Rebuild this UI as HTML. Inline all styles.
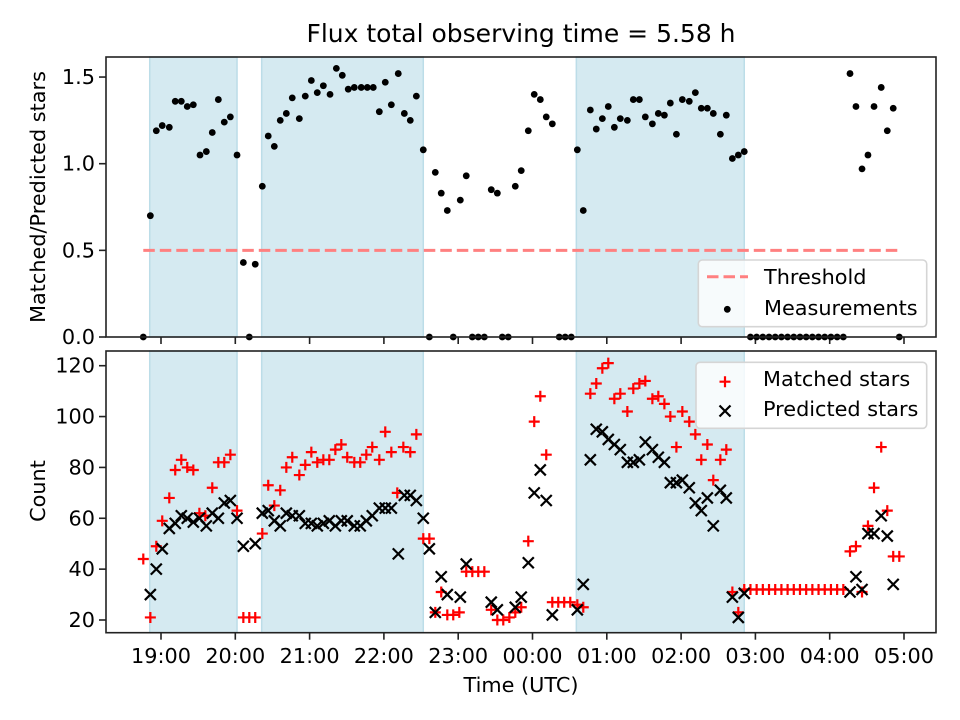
<!DOCTYPE html>
<html><head><meta charset="utf-8"><style>
html,body{margin:0;padding:0;background:#fff}
svg{display:block;font-family:"DejaVu Sans","Liberation Sans",sans-serif}
</style></head><body>
<svg id="chart" width="960" height="720" viewBox="0 0 960 720" xmlns="http://www.w3.org/2000/svg">
<rect width="960" height="720" fill="#fff"/>
<text x="521" y="42" text-anchor="middle" font-size="25">Flux total observing time = 5.58 h</text>
<g id="top"></g><g id="bot"></g>
<text x="521" y="692" text-anchor="middle" font-size="20.8">Time (UTC)</text>
<text transform="translate(45,197) rotate(-90)" text-anchor="middle" font-size="20.8">Matched/Predicted stars</text>
<text transform="translate(45,491) rotate(-90)" text-anchor="middle" font-size="20.8">Count</text>
</svg>
<script>
// times in minutes after 18:00
const shadeStart = [50.9, 141.3, 395.4];
const shadeEnd = [121.4, 271.8, 531.0];
const threshold = 0.5;
const thresholdRange = [45.7, 656.2];
const xTickMinutes = [60,120,180,240,300,360,420,480,540,600,660];
const xTickLabels = ["19:00","20:00","21:00","22:00","23:00","00:00","01:00","02:00","03:00","04:00","05:00"];
const topTicks = [0, 0.5, 1.0, 1.5];
const topTickLabels = ["0.0","0.5","1.0","1.5"];
const botTicks = [20,40,60,80,100,120];
const ratioT = [45.7,51.4,56.2,61.0,66.7,71.5,76.4,81.2,86.1,91.5,96.6,101.4,106.3,111.1,116.0,121.4,126.5,131.3,136.1,141.8,146.6,151.5,156.3,161.2,166.0,171.7,176.5,181.4,186.2,191.1,196.5,201.6,206.4,211.2,216.1,221.7,226.6,231.4,236.3,241.1,246.0,251.6,256.5,261.3,266.2,271.8,276.7,281.5,286.3,291.2,296.0,301.7,306.5,311.4,316.2,321.1,326.7,331.6,335.6,340.4,346.1,350.9,356.6,361.4,366.3,371.1,376.0,381.6,386.4,391.3,396.2,401.0,406.7,411.5,416.4,421.2,426.1,430.9,436.6,441.4,446.3,451.1,456.8,461.6,466.5,471.3,476.2,481.0,486.6,491.5,496.3,501.2,506.0,511.7,516.5,521.4,526.2,531.0,536,541,546,551,556,561,566,571,576,581,586,591,596,601,606,611,616.4,621.2,626.1,630.9,635.8,641.6,646.5,651.3,656.2];
const ratioV = [0,0.70,1.19,1.22,1.21,1.36,1.36,1.33,1.34,1.05,1.07,1.18,1.37,1.24,1.27,1.05,0.43,0,0.42,0.87,1.16,1.10,1.25,1.29,1.38,1.26,1.39,1.48,1.41,1.45,1.40,1.55,1.51,1.43,1.44,1.44,1.44,1.44,1.30,1.47,1.34,1.52,1.29,1.25,1.39,1.08,0,0.95,0.83,0.73,0,0.79,0.93,0,0,0,0.85,0.83,0,0,0.87,0.96,1.19,1.40,1.37,1.27,1.23,0,0,0,1.08,0.73,1.31,1.20,1.26,1.33,1.21,1.26,1.25,1.37,1.37,1.27,1.23,1.29,1.28,1.35,1.17,1.37,1.36,1.41,1.32,1.32,1.29,1.17,1.28,1.03,1.05,1.07,0,0,0,0,0,0,0,0,0,0,0,0,0,0,0,0,1.52,1.33,0.97,1.05,1.33,1.44,1.19,1.32,0];
const matchedT = [45.7,51.4,56.2,61.0,66.7,71.5,76.4,81.2,86.1,91.0,95.8,101.4,106.3,111.1,116.0,121.4,126.5,131.3,136.1,141.8,146.6,151.5,156.3,161.2,166.0,171.7,176.5,181.4,186.2,191.1,195.9,200.8,205.6,210.4,216.1,220.9,225.8,230.6,236.3,241.1,246.0,250.8,255.7,261.3,266.2,271.8,276.7,281.5,286.3,291.2,296.0,300.9,306.5,311.4,316.2,321.1,326.7,331.6,336.4,341.3,346.1,350.9,356.6,361.4,366.3,371.1,376.0,380.8,385.6,390.5,396.2,401.0,406.7,411.5,416.4,421.2,426.1,430.9,436.6,441.4,446.3,451.1,456.8,461.6,466.5,471.3,476.2,481.0,486.6,491.5,496.3,501.2,506.0,511.7,516.5,521.4,526.2,531.0,536,541,546,551,556,561,566,571,576,581,586,591,596,601,606,611,616.4,621.2,626.1,630.9,635.8,641.6,646.5,651.3,656.2];
const matchedV = [44,21,49,59,68,79,83,80,79,62,61,72,82,82,85,63,21,21,21,54,73,65,71,80,84,77,81,86,82,83,83,87,89,84,82,82,85,88,83,94,86,70,88,86,93,52,52,23,31,22,22,23,39,39,39,39,24,20,20,21,23,25,51,98,108,85,27,27,27,27,26,25,109,113,119,121,107,109,102,111,113,114,107,108,105,100,88,102,98,93,83,89,75,83,87,31,23,32,32,32,32,32,32,32,32,32,32,32,32,32,32,32,32,32,47,49,31,57,72,88,63,45,45];
const predT = [51.4,56.2,61.0,66.7,71.5,76.4,81.2,86.1,91.0,96.6,101.4,106.3,111.1,116.0,121.4,126.5,136.1,141.8,146.6,151.5,156.3,161.2,166.0,171.7,176.5,181.4,186.2,191.1,195.9,200.8,205.6,210.4,216.1,220.9,225.8,230.6,236.3,241.1,246.0,251.6,256.5,261.3,266.2,271.8,276.7,281.5,286.3,291.2,301.7,306.5,326.7,331.6,346.1,350.9,356.6,361.4,366.3,371.1,376.0,396.2,401.0,406.7,411.5,416.4,421.2,426.1,430.9,436.6,441.4,446.3,451.1,456.8,461.6,466.5,471.3,476.2,481.0,486.6,491.5,496.3,501.2,506.0,511.7,516.5,521.4,526.2,531.0,616.4,621.2,626.1,630.9,635.8,641.6,646.5,651.3];
const predV = [30,40,48,56,58,61,60,58.5,60,57,62,60,66,67,60,49,50,62,63,59,57,62,61,61,58,58,57,58,59,57,59,59,57,57,59,61,64,64,64,46,69,69,67,60,48,23,37,30,29,42,27,24,25,29,42.5,70,79,67,22,24,34,83,95,94,91,89,87,82,82,83,90,87,84,82,74,74,75,72,66,63,68,57,71,68,29,21,30.5,31,37,32,54,54,61,53,34];

const NS="http://www.w3.org/2000/svg";
const L=106,R=936,TT=57,TB=337,BT=351,BB=632.7;
const xs = m => 161 + (m-60)*74.3/60;
const yTop = v => 337 - v*173.3;
const yBot = v => 620 - (v-20)*2.543;
function el(tag, attrs, parent){const e=document.createElementNS(NS,tag);for(const k in attrs)e.setAttribute(k,attrs[k]);parent.appendChild(e);return e;}

function panel(g, top, bottom, yf, ticks, labels, showX, prefix){
  for(let i=0;i<shadeStart.length;i++){
    const r=el('rect',{x:xs(shadeStart[i]),y:top,width:xs(shadeEnd[i])-xs(shadeStart[i]),height:bottom-top,fill:'#d5eaf1',stroke:'#bcdde8','stroke-width':1.5},g);
    
    
  }
  ticks.forEach((t,i)=>{
    const y=yf(t);
    el('line',{x1:L-7,x2:L,y1:y,y2:y,stroke:'#222','stroke-width':1.6},g);
    const tx=el('text',{x:L-11,y:y+7,'text-anchor':'end','font-size':20.8},g);
    tx.textContent=labels[i];
    
    
  });
  xTickMinutes.forEach((m,i)=>{
    const x=xs(m);
    el('line',{x1:x,x2:x,y1:bottom,y2:bottom+7,stroke:'#222','stroke-width':1.6},g);
    if(showX){
      const tx=el('text',{x:x,y:663,'text-anchor':'middle','font-size':20.8},g);
      tx.textContent=xTickLabels[i];
      
      
    }
  });
}

const gt=document.getElementById('top'), gb=document.getElementById('bot');
panel(gt,TT,TB,yTop,topTicks,topTickLabels,false,'top');
// threshold
const th=el('line',{x1:xs(thresholdRange[0]),x2:xs(thresholdRange[1]),y1:yTop(threshold),y2:yTop(threshold),stroke:'#ff8080','stroke-width':3,'stroke-dasharray':'11.5,5'},gt);


ratioT.forEach((t,i)=>{
  const c=el('circle',{cx:xs(t),cy:yTop(ratioV[i]),r:3.4,fill:'#000'},gt);
  
  
});
const tf=el('rect',{x:L,y:TT,width:R-L,height:TB-TT,fill:'none',stroke:'#222','stroke-width':1.6},gt);



panel(gb,BT,BB,yBot,botTicks,botTicks.map(String),true,'bottom');
function plus(g,x,y){const p=el('path',{d:`M${x-5.5},${y}H${x+5.5}M${x},${y-5.5}V${y+5.5}`,stroke:'#ff0000','stroke-width':2.2,fill:'none'},g);return p;}
function cross(g,x,y){const p=el('path',{d:`M${x-5.5},${y-5.5}L${x+5.5},${y+5.5}M${x-5.5},${y+5.5}L${x+5.5},${y-5.5}`,stroke:'#000','stroke-width':2.2,fill:'none'},g);return p;}
matchedT.forEach((t,i)=>{
  const p=plus(gb,xs(t),yBot(matchedV[i]));
  
  
});
predT.forEach((t,i)=>{
  const p=cross(gb,xs(t),yBot(predV[i]));
  
  
});
const bf=el('rect',{x:L,y:BT,width:R-L,height:BB-BT,fill:'none',stroke:'#222','stroke-width':1.6},gb);



// legends
const lg1=el('g',{},gt);


el('rect',{x:698.3,y:260,width:228.4,height:66.7,rx:4,fill:'rgba(255,255,255,0.8)',stroke:'#d5d5d5','stroke-width':1.6},lg1);
el('line',{x1:707,x2:748,y1:276.7,y2:276.7,stroke:'#ff8080','stroke-width':3,'stroke-dasharray':'11.5,5'},lg1);
const t1=el('text',{x:764,y:284,'font-size':20.8},lg1);t1.textContent='Threshold';
el('circle',{cx:727.3,cy:309.3,r:3.4,fill:'#000'},lg1);
const t2=el('text',{x:764,y:315,'font-size':20.8},lg1);t2.textContent='Measurements';

const lg2=el('g',{},gb);


el('rect',{x:696,y:362.3,width:230.7,height:66,rx:4,fill:'rgba(255,255,255,0.8)',stroke:'#d5d5d5','stroke-width':1.6},lg2);
plus(lg2,725,381.7);
const t3=el('text',{x:763,y:386,'font-size':20.8},lg2);t3.textContent='Matched stars';
cross(lg2,725,411);
const t4=el('text',{x:763,y:416,'font-size':20.8},lg2);t4.textContent='Predicted stars';
</script>
</body></html>
